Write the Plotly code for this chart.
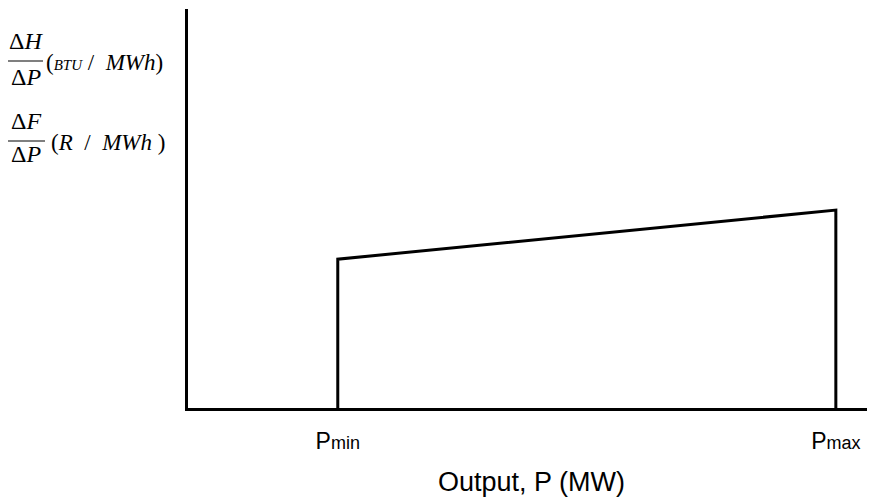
import plotly.graph_objects as go

# Data
x_range = [0, 10]
y_range = [0, 10]
p_min = 2.18
p_max = 9.43
rate_at_pmin = 3.73
rate_at_pmax = 4.96
tick_vals = [p_min, p_max]
tick_text = ['P<span style="font-size:18px">min</span>',
             'P<span style="font-size:18px">max</span>']
x_title = "Output, P (MW)"

xs = [p_min, p_min, p_max, p_max]
ys = [0, rate_at_pmin, rate_at_pmax, 0]

fig = go.Figure()
fig.add_trace(go.Scatter(x=xs, y=ys, mode="lines",
                         line=dict(color="black", width=3), showlegend=False,
                         hoverinfo="skip"))

OFF = 8  # default page body margin
W, H = 875 - OFF, 500 - OFF
L, R, T, B = 188 - OFF, 0, 9 - OFF, 500 - 408
pw, ph = W - L - R, H - T - B


def px(xp):
    return (xp - OFF - L) / pw


def py(yp):
    return (H - B - (yp - OFF)) / ph


serif = "Liberation Serif, Times New Roman, serif"
sans = "Liberation Sans, Arial, sans-serif"
fig.update_layout(
    width=W, height=H, autosize=False,
    margin=dict(l=L, r=R, t=T, b=B, pad=0),
    paper_bgcolor="white", plot_bgcolor="white",
    xaxis=dict(range=x_range, showline=True, linecolor="black", linewidth=3,
               showgrid=False, zeroline=False, ticks="",
               tickvals=tick_vals, ticktext=tick_text,
               tickfont=dict(family=sans, size=23, color="black"),
               ticklabelstandoff=10,
               title=dict(text=x_title, standoff=20,
                          font=dict(family=sans, size=27, color="black"))),
    yaxis=dict(range=y_range, showline=True, linecolor="black", linewidth=3,
               showgrid=False, zeroline=False, ticks="", showticklabels=False),
)

# y-axis label: two fractions drawn as text + bar
centered = [
    ("Δ<i>H</i>", 26, 41),
    ("Δ<i>P</i>", 26, 77),
    ("Δ<i>F</i>", 26, 121),
    ("Δ<i>P</i>", 26, 154),
]
for txt, cx, cy in centered:
    fig.add_annotation(x=px(cx), y=py(cy), xref="paper", yref="paper",
                       text=txt, showarrow=False, xanchor="center", yanchor="middle",
                       font=dict(family=serif, size=24, color="black"))

lefts = [
    ("(<span style='font-size:15px'><i>BTU</i></span> /  <i>MWh</i>)", 44, 62),
    ("(<i>R</i>  /  <i>MWh</i> )", 49, 142),
]
for txt, lx, cy in lefts:
    fig.add_annotation(x=px(lx), y=py(cy), xref="paper", yref="paper",
                       text=txt, showarrow=False, xanchor="left", yanchor="middle",
                       font=dict(family=serif, size=23, color="black"))

for x0, x1, yy in [(8, 43, 61), (7, 45, 141)]:
    fig.add_shape(type="line", xref="paper", yref="paper",
                  x0=px(x0), x1=px(x1), y0=py(yy), y1=py(yy),
                  line=dict(color="black", width=1.2))

fig.write_html("out.html")
